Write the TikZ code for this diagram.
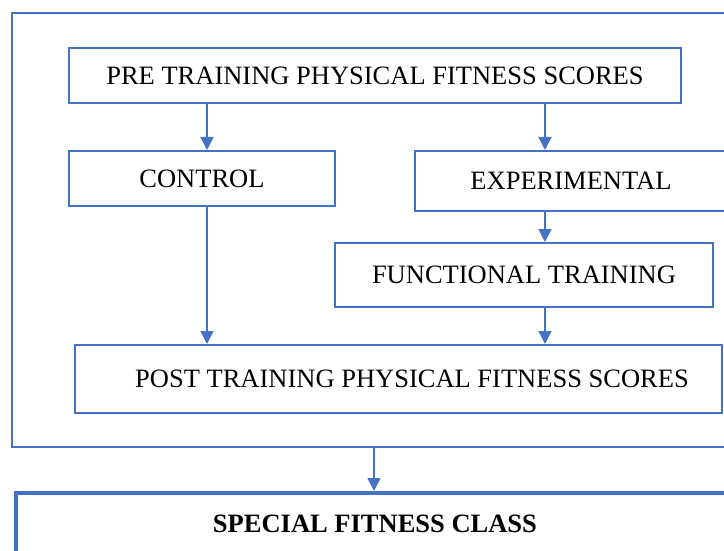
\documentclass[tikz,border=0pt]{standalone}
\usepackage{fontspec}
\setmainfont{Liberation Serif}
\usetikzlibrary{arrows.meta}
\definecolor{flowblue}{HTML}{4472C4}
\begin{document}
\begin{tikzpicture}[x=1pt,y=-1pt,
  box/.style={draw=flowblue, line width=2pt, rectangle, inner sep=0pt,
    anchor=north west, font=\fontsize{26.5}{30}\selectfont},
  arr/.style={draw=flowblue, line width=1.5pt,
    -{Triangle[width=13pt,length=13pt]}}]
  \useasboundingbox (0,0) rectangle (724,551);
  \clip (0,0) rectangle (724,551);
  % outer frame and its contents
  \node[box, minimum width=724pt, minimum height=434pt] (outer) at (11,12) {};
  \node[box, minimum width=612pt, minimum height=55pt] (pre) at (68,47)
    {PRE TRAINING PHYSICAL FITNESS SCORES};
  \node[box, minimum width=266pt, minimum height=55pt] (control) at (68,150)
    {CONTROL};
  \node[box, minimum width=312pt, minimum height=60pt] (exp) at (414,150)
    {EXPERIMENTAL};
  \node[box, minimum width=378pt, minimum height=64pt] (func) at (334,242)
    {FUNCTIONAL TRAINING};
  \node[box, minimum width=647pt, minimum height=68pt] (post) at (74,344)
    {\hspace*{27pt}POST TRAINING PHYSICAL FITNESS SCORES};
  % class box below the frame
  \node[box, line width=4pt, minimum width=740pt, minimum height=120pt] (special) at (14,491) {};
  \node[font=\fontsize{26.5}{30}\selectfont\bfseries] (speciallabel) at (375,524)
    {SPECIAL FITNESS CLASS};
  % columns used by the connectors
  \coordinate (ccol) at (207,0);
  \coordinate (ecol) at (545,0);
  \draw[arr] (ccol |- pre.south) -- (ccol |- control.north);
  \draw[arr] (ecol |- pre.south) -- (ecol |- exp.north);
  \draw[arr] (ecol |- exp.south) -- (ecol |- func.north);
  \draw[arr] (ecol |- func.south) -- (ecol |- post.north);
  \draw[arr] (ccol |- control.south) -- (ccol |- post.north);
  \draw[arr] (outer.south) -- (outer.south |- special.north);
\end{tikzpicture}
\end{document}
